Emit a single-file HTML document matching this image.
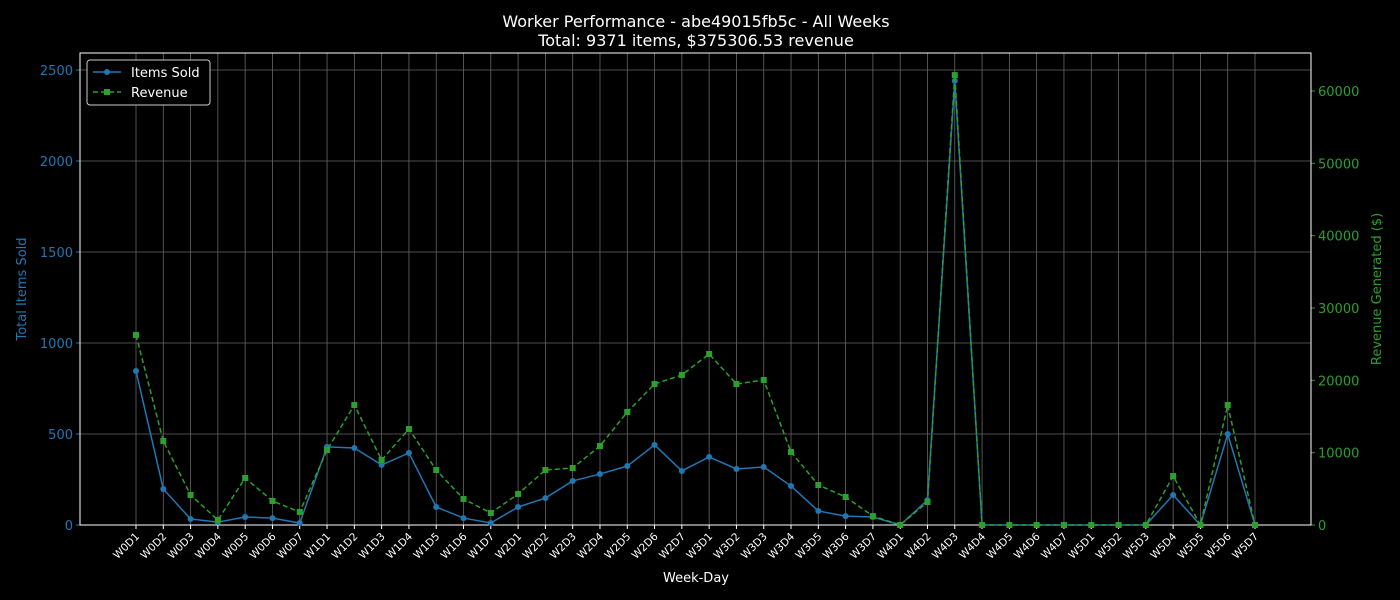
<!DOCTYPE html>
<html><head><meta charset="utf-8"><style>
body{margin:0;background:#000;}
svg{display:block;font-family:"DejaVu Sans","Liberation Sans",sans-serif;}
</style></head><body>
<svg id="chart" width="1400" height="600" viewBox="0 0 1400 600">
<rect width="1400" height="600" fill="#000"/>
<text x="696" y="27" fill="#fff" font-size="16" text-anchor="middle">Worker Performance - abe49015fb5c - All Weeks</text>
<text x="696" y="46" fill="#fff" font-size="16" text-anchor="middle">Total: 9371 items, $375306.53 revenue</text>
<g id="grid"></g><g id="axes"></g><g id="series"></g>
<text x="696" y="582" fill="#fff" font-size="13" text-anchor="middle">Week-Day</text>
<text transform="translate(26,289) rotate(-90)" fill="#1f77b4" font-size="13" text-anchor="middle">Total Items Sold</text>
<text transform="translate(1381,289) rotate(-90)" fill="#2ca02c" font-size="13" text-anchor="middle">Revenue Generated ($)</text>
<g>
<rect x="87" y="60" width="123" height="45" rx="3" fill="#000" stroke="#ccc" stroke-width="1"/>
<line x1="93" y1="72" x2="121" y2="72" stroke="#1f77b4" stroke-width="1.5"/><circle cx="107" cy="72" r="3" fill="#1f77b4"/>
<text x="131" y="77" fill="#fff" font-size="13">Items Sold</text>
<line x1="93" y1="92" x2="121" y2="92" stroke="#2ca02c" stroke-width="1.5" stroke-dasharray="5,3"/><rect x="104" y="89" width="6" height="6" fill="#2ca02c"/>
<text x="131" y="97" fill="#fff" font-size="13">Revenue</text>
</g>
</svg>
<script>
const categories=[];
for(let w=0;w<6;w++)for(let d=1;d<=7;d++)categories.push('W'+w+'D'+d);
const itemsSold=[846,198,33,16,44,38,11, 429,423,330,396,99,38,11, 99,148,242,280,324,440,297, 374,308,319,214,77,49,44, 0,137,2440,0,0,0,0, 0,0,0,165,0,500,0];
const revenue=[26270,11610,4150,690,6500,3320,1800, 10370,16590,8990,13270,7600,3600,1660, 4290,7600,7880,10920,15620,19490,20740, 23640,19490,20050,10090,5530,3870,1240, 0,3180,62200,0,0,0,0, 0,0,0,6770,0,16590,0];
const leftTicks=[0,500,1000,1500,2000,2500];
const rightTicks=[0,10000,20000,30000,40000,50000,60000];
const NS='http://www.w3.org/2000/svg';
const L=80,R=1311,T=53,B=525;
const xS=i=>136+i*(1255-136)/(categories.length-1);
const yL=v=>525-v*0.182;
const yR=v=>525-v*(434/60000);
function mk(tag,attrs,parent,txt){const e=document.createElementNS(NS,tag);for(const k in attrs)e.setAttribute(k,attrs[k]);if(txt!==undefined)e.textContent=txt;document.getElementById(parent).appendChild(e);return e;}
categories.forEach((c,i)=>{
 const g=mk('line',{x1:xS(i),x2:xS(i),y1:T,y2:B,stroke:'#666','stroke-width':0.8},'grid');
 
 
 mk('line',{x1:xS(i),x2:xS(i),y1:B,y2:B+4,stroke:'#fff'},'axes');
 const t=mk('text',{x:xS(i)+4,y:B+12,fill:'#fff','font-size':10.5,'text-anchor':'end',transform:'rotate(-45 '+(xS(i)+4)+' '+(B+12)+')'},'axes',c);
 
 
});
leftTicks.forEach(v=>{
 const g=mk('line',{x1:L,x2:R,y1:yL(v),y2:yL(v),stroke:'#666','stroke-width':0.8},'grid');
 
 
 mk('line',{x1:L-4,x2:L,y1:yL(v),y2:yL(v),stroke:'#1f77b4'},'axes');
 const t=mk('text',{x:L-7,y:yL(v)+5,fill:'#1f77b4','font-size':13,'text-anchor':'end'},'axes',v);
 
 
});
rightTicks.forEach(v=>{
 mk('line',{x1:R,x2:R+4,y1:yR(v),y2:yR(v),stroke:'#2ca02c'},'axes');
 const t=mk('text',{x:R+7,y:yR(v)+5,fill:'#2ca02c','font-size':13},'axes',v);
 
 
});
const fr=mk('rect',{x:L,y:T,width:R-L,height:B-T,fill:'none',stroke:'#fff','stroke-width':1},'axes');


const p1=mk('polyline',{points:itemsSold.map((v,i)=>xS(i)+','+yL(v)).join(' '),fill:'none',stroke:'#1f77b4','stroke-width':1.5},'series');


itemsSold.forEach((v,i)=>{const c=mk('circle',{cx:xS(i),cy:yL(v),r:3,fill:'#1f77b4'},'series');
 
 });
const p2=mk('polyline',{points:revenue.map((v,i)=>xS(i)+','+yR(v)).join(' '),fill:'none',stroke:'#2ca02c','stroke-width':1.5,'stroke-dasharray':'5,3'},'series');


revenue.forEach((v,i)=>{const c=mk('rect',{x:xS(i)-3,y:yR(v)-3,width:6,height:6,fill:'#2ca02c'},'series');
 
 });
</script>
</body></html>
